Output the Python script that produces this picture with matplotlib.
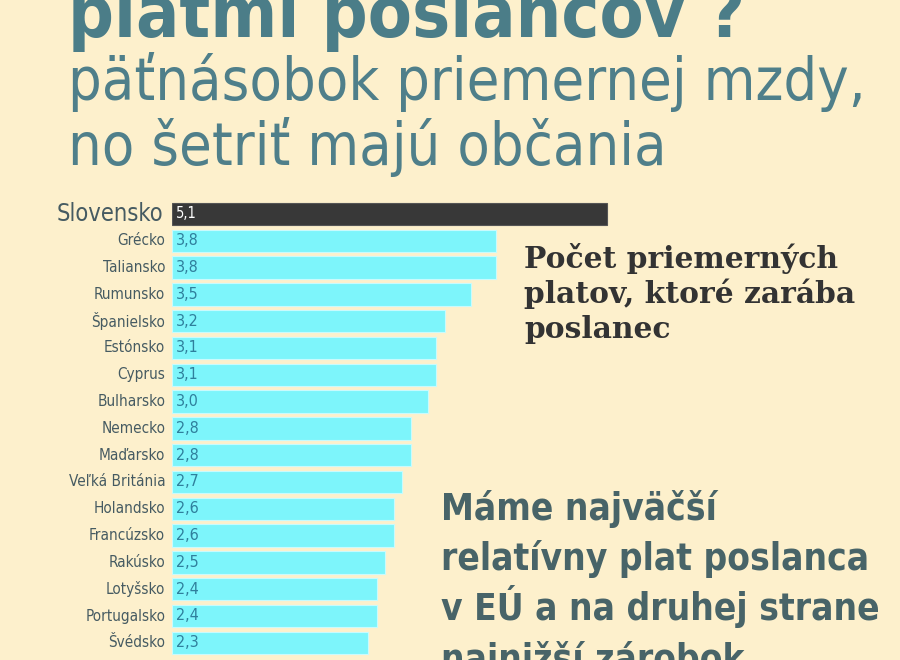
import matplotlib
matplotlib.use("Agg")
import matplotlib.pyplot as plt

countries = ["Slovensko", "Grécko", "Taliansko", "Rumunsko", "Španielsko", "Estónsko",
             "Cyprus", "Bulharsko", "Nemecko", "Maďarsko", "Veľká Británia", "Holandsko",
             "Francúzsko", "Rakúsko", "Lotyšsko", "Portugalsko", "Švédsko"]
values = [5.1, 3.8, 3.8, 3.5, 3.2, 3.1, 3.1, 3.0, 2.8, 2.8, 2.7, 2.6, 2.6, 2.5, 2.4, 2.4, 2.3]

title_top = "platmi poslancov ?"
subtitle_lines = ["päťnásobok priemernej mzdy,", "no šetriť majú občania"]
note_lines = ["Počet priemerných", "platov, ktoré zarába", "poslanec"]
claim_lines = ["Máme najväčší", "relatívny plat poslanca", "v EÚ a na druhej strane", "najnižší zárobok"]

BG = "#fdf0cc"
TEAL = "#4b7d88"
CYAN = "#7df5fb"
DARK = "#383838"
VALC = "#2f7f9c"
LABC = "#465b62"

W, H = 900, 660
fig = plt.figure(figsize=(W / 100, H / 100), dpi=100)
fig.patch.set_facecolor(BG)

ax = fig.add_axes([172 / W, 0, (W - 172) / W, (H - 200) / H])
ax.set_facecolor(BG)
px_per_unit = 85.3
ax.set_xlim(0, (W - 172) / px_per_unit)
row = 26.8
ax.set_ylim((H - 214) / row, -(214 - 200) / row)
ax.axis("off")

ypos = list(range(len(countries)))
colors = [DARK] + [CYAN] * (len(countries) - 1)
ax.barh(ypos, values, height=0.84, color=colors,
        edgecolor=["#555555"] + ["#c9fbfd"] * (len(countries) - 1), linewidth=0.8)

cond = dict(family="DejaVu Sans", stretch="condensed")
for i, (c, v) in enumerate(zip(countries, values)):
    lab = f"{v:.1f}".replace(".", ",")
    if i == 0:
        ax.text(-0.1, i, c, ha="right", va="center", fontsize=17, color=LABC, **cond)
        ax.text(0.05, i, lab, ha="left", va="center", fontsize=10.5, color="white", **cond)
    else:
        ax.text(-0.08, i, c, ha="right", va="center", fontsize=11, color=LABC, **cond)
        ax.text(0.05, i, lab, ha="left", va="center", fontsize=11.5, color=VALC, **cond)

renderer = fig.canvas.get_renderer()


def fit_text(x, y, s, width, size0, **kw):
    t = fig.text(x / W, 1 - y / H, s, fontsize=size0, va="baseline", ha="left", **kw)
    bb = t.get_window_extent(renderer=renderer)
    t.set_fontsize(size0 * width / bb.width)
    return t


fit_text(68, 37, title_top, 677, 40, color=TEAL, fontweight="bold", family="DejaVu Sans",
         stretch="condensed")
t1 = fit_text(68, 100, subtitle_lines[0], 798, 36, color="#4f7f8a", family="DejaVu Sans",
              fontweight="light", stretch="condensed")
fig.text(68 / W, 1 - 165 / H, subtitle_lines[1], va="baseline", ha="left", color="#4f7f8a",
         family="DejaVu Sans", fontweight="light", stretch="condensed", fontsize=t1.get_fontsize())

tn = fit_text(524, 303, note_lines[1], 331, 18, color="#333333", family="DejaVu Serif",
              fontweight="bold")
ns = tn.get_fontsize()
fig.text(524 / W, 1 - 268 / H, note_lines[0], fontsize=ns, va="baseline", color="#333333",
         family="DejaVu Serif", fontweight="bold")
fig.text(524 / W, 1 - 338 / H, note_lines[2], fontsize=ns, va="baseline", color="#333333",
         family="DejaVu Serif", fontweight="bold")

claim_kw = dict(color="#486468", family="DejaVu Sans", fontweight="bold", stretch="condensed")
tc2 = fit_text(441, 570, claim_lines[1], 439, 28, **claim_kw)
tc3 = fit_text(441, 620, claim_lines[2], 439, 28, **claim_kw)
cs = min(tc2.get_fontsize(), tc3.get_fontsize())
tc2.set_fontsize(cs)
tc3.set_fontsize(cs)
for ln, yb in zip([claim_lines[0], claim_lines[3]], [520, 671]):
    fig.text(441 / W, 1 - yb / H, ln, fontsize=cs, va="baseline", **claim_kw)

fig.savefig("out.png", dpi=100, facecolor=BG)
